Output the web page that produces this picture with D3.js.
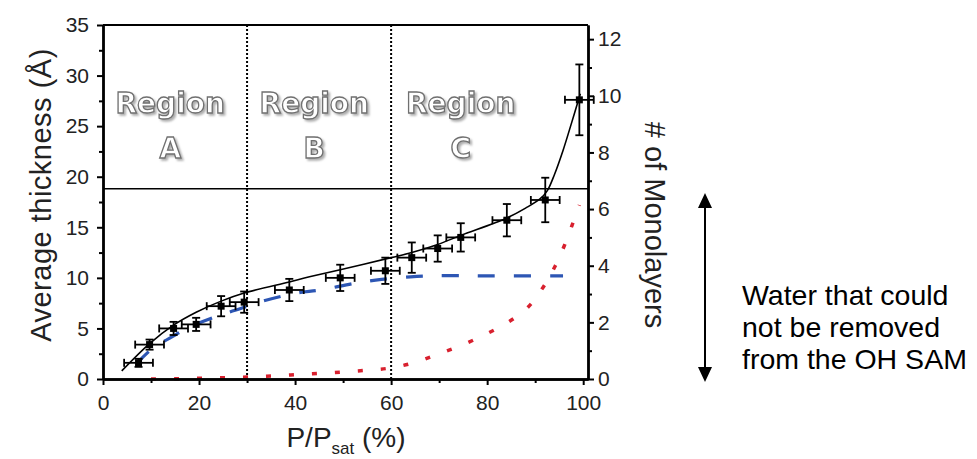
<!DOCTYPE html>
<html>
<head>
<meta charset="utf-8">
<script src="https://cdn.jsdelivr.net/npm/d3@7/dist/d3.min.js"></script>
<style>
  html, body { margin: 0; padding: 0; background: #fff; }
  svg { display: block; font-family: "Liberation Sans", Arial, sans-serif; }
</style>
</head>
<body>
<div id="chart"></div>
<script>
// Water film thickness vs relative humidity, with region dividers and
// a twin monolayer axis. All curves are read off the reference picture.

// measured points (Å) with error bars
const ptX    = [7.4, 9.7, 14.7, 19.4, 24.6, 29.4, 38.8, 49.4, 58.8, 64.3, 69.7, 74.5, 84.1, 92.1, 99.2];
const ptY    = [1.6, 3.4, 5.0, 5.4, 7.2, 7.6, 8.8, 10.0, 10.7, 12.0, 12.9, 14.0, 15.7, 17.7, 27.6];
const ptYerr = [0.4, 0.5, 0.65, 0.65, 1.0, 1.05, 1.1, 1.3, 1.3, 1.5, 1.3, 1.4, 1.6, 2.2, 3.5];
const ptXerr = [3, 3, 3, 3, 3, 3, 3, 3, 3, 3, 3, 3, 3, 3, 3];

// solid fit through the points
const fitX = [3.9, 9.7, 14.6, 19.4, 24.6, 29.4, 38.8, 43, 49.4, 60, 64.3, 69.7, 74.5, 84, 88, 91, 92.5, 94, 95.8, 97.5, 99.4];
const fitY = [0.8, 3.5, 5.3, 6.6, 7.7, 8.5, 9.6, 10.1, 10.8, 12.0, 12.5, 13.3, 14.2, 15.9, 16.9, 17.8, 18.6, 20.2, 22.6, 25.2, 28.2];

// blue dashed component (plateaus)
const blueX = [7, 10, 15, 17.4, 23.7, 29.9, 33.3, 40.3, 45.2, 52.8, 58, 64, 68.8, 80, 95.8];
const blueY = [1.5, 2.9, 4.35, 5.0, 6.2, 7.15, 7.7, 8.5, 8.8, 9.5, 9.85, 10.1, 10.2, 10.2, 10.2];

// red dotted component (rises near saturation)
const redX = [10, 15, 20, 25, 30, 35, 40, 45, 50, 55, 60, 65, 70, 75, 80, 84, 88.5, 91.7, 94.2, 96, 97.6, 99.2];
const redY = [0.0, 0.03, 0.07, 0.12, 0.2, 0.3, 0.42, 0.55, 0.7, 0.87, 1.1, 1.65, 2.5, 3.4, 4.5, 5.5, 7.1, 9.1, 11.2, 13.1, 15.1, 17.2];

const regionEdges = [30, 60];
const regionLetters = ['A', 'B', 'C'];
const regionCenters = [14, 44, 74.5];
const cutLine = 18.8;

const xTicks = [0, 20, 40, 60, 80, 100];
const xMinor = [10, 30, 50, 70, 90];
const yTicks = [0, 5, 10, 15, 20, 25, 30, 35];
const yMinor = [2.5, 7.5, 12.5, 17.5, 22.5, 27.5, 32.5];
const rTicks = [0, 2, 4, 6, 8, 10, 12];
const rMinor = [1, 3, 5, 7, 9, 11];

const noteLines = ['Water that could', 'not be removed', 'from the OH SAM'];

const W = 977, H = 459;
const svg = d3.select('#chart').append('svg').attr('width', W).attr('height', H);

const x = d3.scaleLinear().domain([0, 101]).range([103, 588]);
const yL = d3.scaleLinear().domain([0, 35]).range([379, 25]);
const yR = d3.scaleLinear().domain([0, 12.5]).range([379, 25]);

// soft shadow for the hollow region labels
svg.append('defs').append('filter').attr('id', 'shade')
  .attr('x', '-10%').attr('y', '-20%').attr('width', '130%').attr('height', '150%')
  .append('feDropShadow').attr('dx', 2).attr('dy', 2).attr('stdDeviation', 0.9)
  .attr('flood-color', '#999').attr('flood-opacity', 0.8);

// region dividers
svg.append('g').selectAll('line').data(regionEdges).join('line')
  .attr('x1', (d) => x(d)).attr('x2', (d) => x(d)).attr('y1', yL(35)).attr('y2', yL(0))
  .attr('stroke', '#000').attr('stroke-width', 2).attr('stroke-dasharray', '2,2');

// horizontal cut line and top frame
svg.append('line').attr('x1', x(0)).attr('x2', x(101)).attr('y1', yL(cutLine)).attr('y2', yL(cutLine))
  .attr('stroke', '#000').attr('stroke-width', 1.5);
svg.append('line').attr('x1', x(0)).attr('x2', x(101)).attr('y1', yL(35)).attr('y2', yL(35))
  .attr('stroke', '#000').attr('stroke-width', 1.8);

// region labels
const reg = svg.append('g').style('font-family', '"DejaVu Sans", sans-serif')
  .style('font-weight', 'bold').style('font-size', '28px').attr('text-anchor', 'middle');
regionLetters.forEach((L, i) => {
  const cx = x(regionCenters[i]);
  [['Region', 113], [L, 158]].forEach(([t, by]) => {
    reg.append('text').attr('x', cx).attr('y', by).text(t)
      .attr('fill', '#fff').attr('stroke', '#707070').attr('stroke-width', 1.3)
      .attr('filter', 'url(#shade)');
  });
});

const line = (xs, ys) => d3.line().curve(d3.curveCatmullRom.alpha(0.5))
  .x((d, i) => x(xs[i])).y((d, i) => yL(ys[i]))(xs);

// red dotted
svg.append('path').attr('d', line(redX, redY)).attr('fill', 'none')
  .attr('stroke', '#d8202e').attr('stroke-width', 3.5).attr('stroke-dasharray', '5,18');
// blue dashed
svg.append('path').attr('d', line(blueX, blueY)).attr('fill', 'none')
  .attr('stroke', '#2d56b4').attr('stroke-width', 3.2).attr('stroke-dasharray', '17,19');
// fit
svg.append('path').attr('d', line(fitX, fitY)).attr('fill', 'none')
  .attr('stroke', '#000').attr('stroke-width', 1.6);

// error bars + square markers
const pts = ptX.map((v, i) => ({ x: v, y: ptY[i], ex: ptXerr[i], ey: ptYerr[i] }));
const eb = svg.append('g').attr('stroke', '#000').attr('stroke-width', 1.8);
pts.forEach((p) => {
  const cx = x(p.x), cy = yL(p.y);
  const x0 = x(p.x - p.ex), x1 = x(p.x + p.ex);
  const y0 = yL(p.y - p.ey), y1 = yL(p.y + p.ey);
  eb.append('line').attr('x1', x0).attr('x2', x1).attr('y1', cy).attr('y2', cy);
  eb.append('line').attr('x1', cx).attr('x2', cx).attr('y1', y0).attr('y2', y1);
  eb.append('line').attr('x1', x0).attr('x2', x0).attr('y1', cy - 4).attr('y2', cy + 4);
  eb.append('line').attr('x1', x1).attr('x2', x1).attr('y1', cy - 4).attr('y2', cy + 4);
  eb.append('line').attr('x1', cx - 4).attr('x2', cx + 4).attr('y1', y0).attr('y2', y0);
  eb.append('line').attr('x1', cx - 4).attr('x2', cx + 4).attr('y1', y1).attr('y2', y1);
});
svg.append('g').selectAll('rect').data(pts).join('rect')
  .attr('x', (d) => x(d.x) - 3.5).attr('y', (d) => yL(d.y) - 3.5)
  .attr('width', 7).attr('height', 7).attr('fill', '#000');

// axes
function styleAxis(g, labels) {
  g.select('.domain').attr('stroke', '#000').attr('stroke-width', 2.4);
  g.selectAll('.tick line').attr('stroke', '#000').attr('stroke-width', 2);
  g.selectAll('.tick text').style('font-size', labels ? '21px' : '0px').attr('fill', '#222')
    .style('font-family', '"Liberation Sans", Arial, sans-serif');
}
const axes = [
  [d3.axisLeft(yL).tickValues(yTicks).tickSize(6).tickPadding(8), 'translate(103,0)', true],
  [d3.axisLeft(yL).tickValues(yMinor).tickSize(4).tickFormat(''), 'translate(103,0)', false],
  [d3.axisRight(yR).tickValues(rTicks).tickSize(6).tickPadding(4), 'translate(588,0)', true],
  [d3.axisRight(yR).tickValues(rMinor).tickSize(4).tickFormat(''), 'translate(588,0)', false],
  [d3.axisBottom(x).tickValues(xTicks).tickSize(6).tickPadding(10), 'translate(0,379)', true],
  [d3.axisBottom(x).tickValues(xMinor).tickSize(4).tickFormat(''), 'translate(0,379)', false],
];
axes.forEach(([ax, tr, labels]) => {
  const g = svg.append('g').attr('transform', tr).call(ax.tickSizeOuter(0));
  styleAxis(g, labels);
});

// axis titles
svg.append('text').attr('transform', 'translate(51,195) rotate(-90)').attr('text-anchor', 'middle')
  .style('font-size', '29px').style('letter-spacing', '0.5px').attr('fill', '#222')
  .text('Average thickness (Å)');
svg.append('text').attr('transform', 'translate(645,225) rotate(90)').attr('text-anchor', 'middle')
  .style('font-size', '29px').attr('fill', '#222').text('# of Monolayers');
const xt = svg.append('text').attr('x', 346).attr('y', 447).attr('text-anchor', 'middle')
  .style('font-size', '28px').attr('fill', '#222');
xt.append('tspan').text('P/P');
xt.append('tspan').attr('dy', 7).style('font-size', '17px').text('sat');
xt.append('tspan').attr('dy', -7).text(' (%)');

// annotation: double arrow + note
const arrowX = 705, arrowTop = 193, arrowBot = 382;
svg.append('line').attr('x1', arrowX).attr('x2', arrowX).attr('y1', arrowTop + 12).attr('y2', arrowBot - 12)
  .attr('stroke', '#000').attr('stroke-width', 2);
svg.append('path').attr('d', `M${arrowX},${arrowTop} l-7,15 h14 Z`).attr('fill', '#000');
svg.append('path').attr('d', `M${arrowX},${arrowBot} l-7,-15 h14 Z`).attr('fill', '#000');
svg.append('g').selectAll('text').data(noteLines).join('text')
  .attr('x', 742).attr('y', (d, i) => 305 + i * 32)
  .style('font-size', '28.5px').attr('fill', '#000').text((d) => d);
</script>
</body>
</html>
